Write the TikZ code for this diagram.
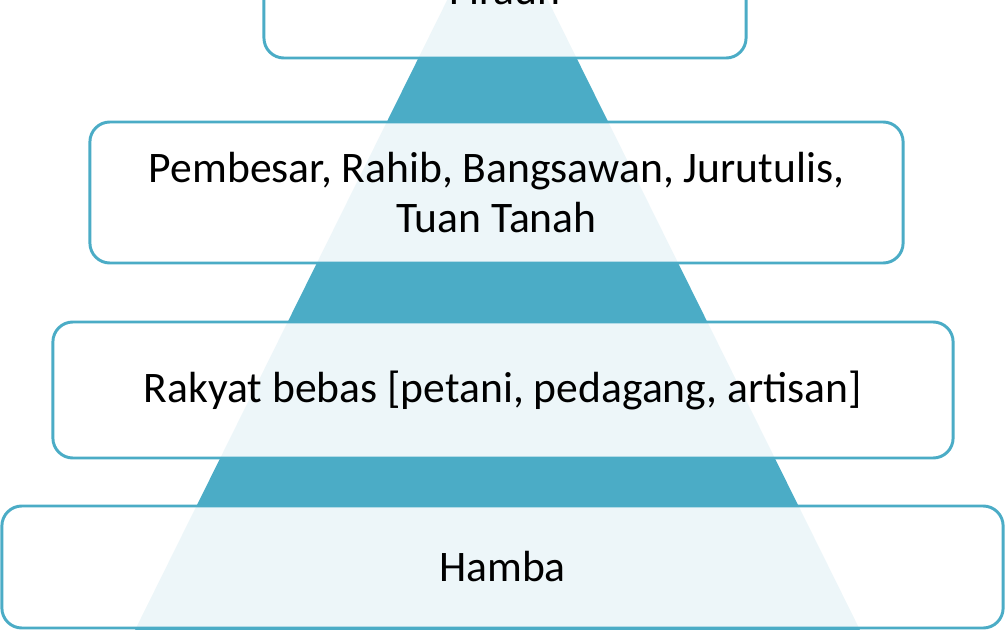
\documentclass[tikz,border=0pt]{standalone}
\usepackage{fontspec}
\setmainfont{Carlito}
\usepackage{tikz}
\definecolor{tealpyr}{HTML}{4BACC6}
\tikzset{
    tierbox/.style={draw=tealpyr, line width=2.1pt, fill=white, fill opacity=0.9, text opacity=1,
        rounded corners=0.5cm, align=center, font=\fontsize{31}{36}\selectfont}
}

\begin{document}
\begin{tikzpicture}[x=0.025cm, y=-0.025cm]
        \useasboundingbox (0,0) rectangle (1006,630);
        \clip (0,0) rectangle (1006,630);

        % Pyramid behind the boxes
        \fill[tealpyr] (497.5,-101.5) -- (909.5,730) -- (85.5,730) -- cycle;

        % Nodes for the boxes
        \node[tierbox, minimum width=12.05cm, minimum height=3.4cm] (firaun) at (505,-10) {Firaun};
        \node[tierbox, minimum width=20.325cm, minimum height=3.525cm] (pembesar) at (496.5,192.5) {Pembesar, Rahib, Bangsawan, Jurutulis,\\ Tuan Tanah};
        \node[tierbox, minimum width=22.5cm, minimum height=3.4cm] (rakyat) at (503,390) {Rakyat bebas [petani, pedagang, artisan]};
        \node[tierbox, minimum width=25.025cm, minimum height=3.05cm] (hamba) at (502.5,567) {Hamba};
    \end{tikzpicture}
\end{document}
